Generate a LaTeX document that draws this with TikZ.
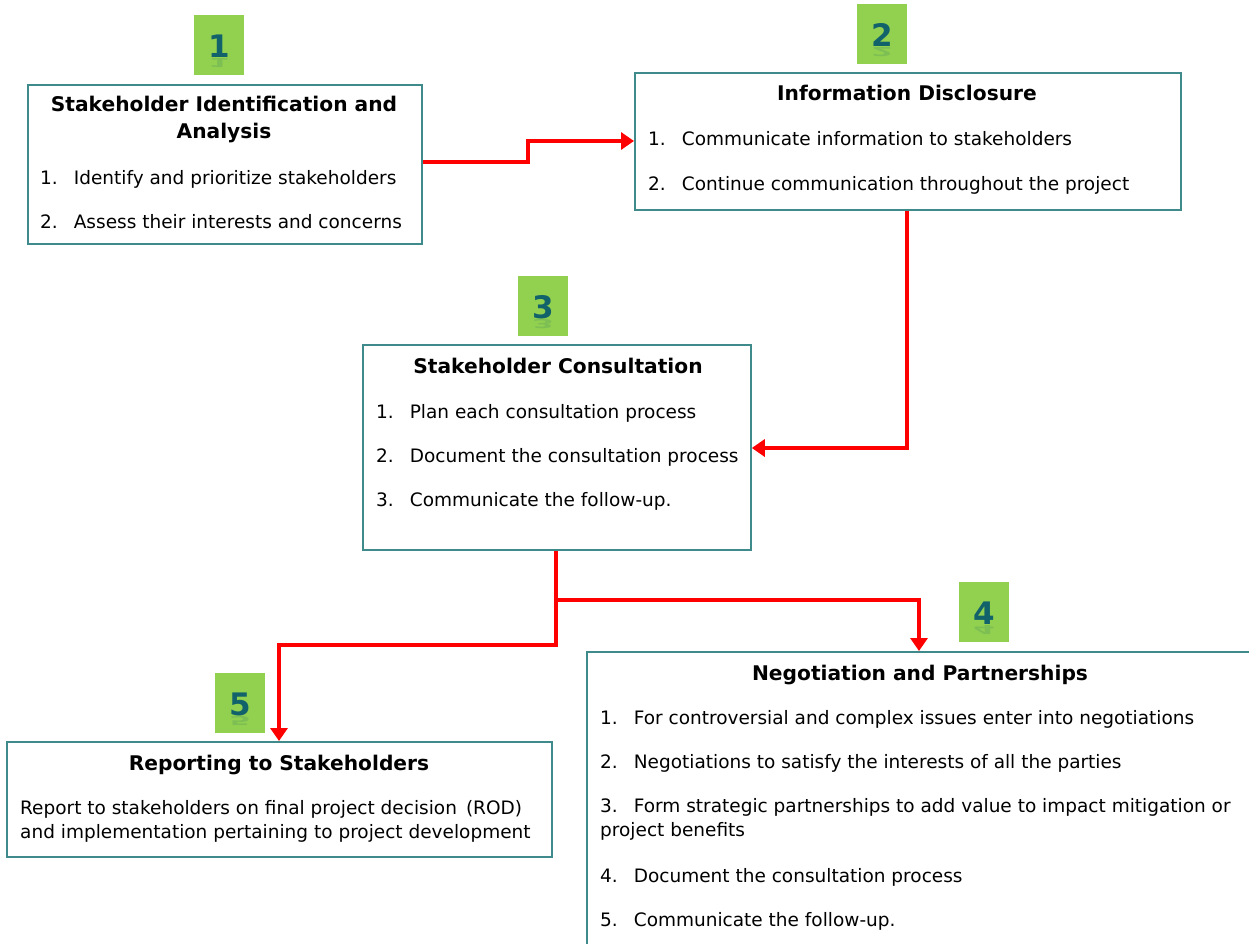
\documentclass[tikz,border=0pt]{standalone}
\usepackage{fontspec}
\setmainfont{DejaVu Sans}
\usetikzlibrary{arrows.meta}
\definecolor{bordc}{HTML}{3F8B8B}
\definecolor{badgeg}{HTML}{92D050}
\definecolor{numc}{HTML}{11626B}
\definecolor{arrred}{HTML}{FF0000}
\tikzset{
  box/.style={draw=bordc, line width=1.8pt, fill=white, inner sep=0pt, anchor=north west},
  badge/.style={fill=badgeg, minimum width=50pt, minimum height=60pt, inner sep=0pt, anchor=north west},
  num/.style={text=numc, inner sep=0pt, font=\fontsize{31}{31}\selectfont\bfseries},
  numrefl/.style={text=numc, inner sep=0pt, opacity=0.15, yscale=-0.4, font=\fontsize{31}{31}\selectfont\bfseries},
  ttl/.style={anchor=base, inner sep=0pt, font=\fontsize{20.2}{24}\selectfont\bfseries},
  itm/.style={anchor=base west, inner sep=0pt, font=\fontsize{18.5}{22}\selectfont},
  flow/.style={draw=arrred, line width=4.5pt, -{Triangle[length=13pt,width=17pt]}},
  flowline/.style={draw=arrred, line width=4.5pt}
}
\newcommand{\gap}{\hspace{16pt}}
\begin{document}
\begin{tikzpicture}[x=1pt,y=-1pt]
\useasboundingbox (0,0) rectangle (1249,944);
% boxes
\node[box, minimum width=394pt, minimum height=159pt] (b1) at (27,84) {};
\node[box, minimum width=546pt, minimum height=137pt] (b2) at (634,72) {};
\node[box, minimum width=388pt, minimum height=205pt] (b3) at (362,344) {};
\node[box, minimum width=680pt, minimum height=310pt] (b4) at (586,651) {};
\node[box, minimum width=545pt, minimum height=115pt] (b5) at (6,741) {};
% badges
\node[badge] (n1) at (194,15) {};
\node[badge] (n2) at (857,4) {};
\node[badge] (n3) at (518,276) {};
\node[badge] (n4) at (959,582) {};
\node[badge] (n5) at (215,673) {};
\foreach \b/\d in {n1/1,n2/2,n3/3,n4/4,n5/5}{
  \node[num] (\b d) at ([yshift=-1pt]\b.center) {\d};
  \node[numrefl] (\b r) at ([yshift=-18pt]\b.center) {\d};
}
% box 1
\node[ttl] (t1a) at (224,112) {Stakeholder Identification and};
\node[ttl] (t1b) at (224,139) {Analysis};
\node[itm] (i1a) at (40,185) {1.\gap Identify and prioritize stakeholders};
\node[itm] (i1b) at (40,228) {2.\gap Assess their interests and concerns};
% box 2
\node[ttl] (t2) at (907,101) {Information Disclosure};
\node[itm] (i2a) at (648,146) {1.\gap Communicate information to stakeholders};
\node[itm] (i2b) at (648,190) {2.\gap Continue communication throughout the project};
% box 3
\node[ttl] (t3) at (558,373) {Stakeholder Consultation};
\node[itm] (i3a) at (376,418) {1.\gap Plan each consultation process};
\node[itm] (i3b) at (376,462) {2.\gap Document the consultation process};
\node[itm] (i3c) at (376,506) {3.\gap Communicate the follow-up.};
% box 4
\node[ttl] (t4) at (920,680) {Negotiation and Partnerships};
\node[itm] (i4a) at (600,724) {1.\gap For controversial and complex issues enter into negotiations};
\node[itm] (i4b) at (600,768) {2.\gap Negotiations to satisfy the interests of all the parties};
\node[itm] (i4c) at (600,812) {3.\gap Form strategic partnerships to add value to impact mitigation or};
\node[itm] (i4d) at (600,836) {project benefits};
\node[itm] (i4e) at (600,882) {4.\gap Document the consultation process};
\node[itm] (i4f) at (600,926) {5.\gap Communicate the follow-up.};
% box 5
\node[ttl] (t5) at (279,770) {Reporting to Stakeholders};
\node[itm] (i5a) at (20,814) {Report to stakeholders on final project decision\hspace{9pt}(ROD)};
\node[itm] (i5b) at (20,838) {and implementation pertaining to project development};
% connectors
\coordinate (split) at (556,600);
\draw[flow] (b1.east |- 0,162) -- (528,162) -- (528,141) -- (b2.west |- 0,141);
\draw[flow] (b2.south -| 907,0) -- (907,448) -- (b3.east |- 0,448);
\draw[flowline] (b3.south -| 556,0) -- (split);
\draw[flow] (split) -- (919,600) -- (b4.north -| 919,0);
\draw[flow] (split) -- (556,645) -- (279,645) -- (b5.north -| 279,0);
\end{tikzpicture}
\end{document}
